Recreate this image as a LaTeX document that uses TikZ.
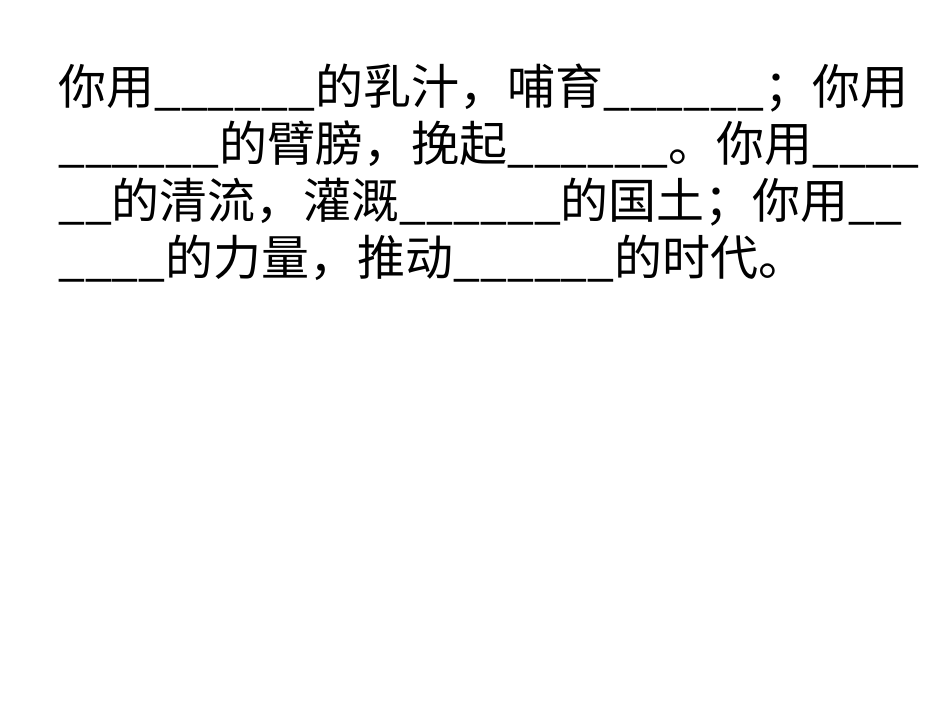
\documentclass[tikz,border=0pt]{standalone}
\usepackage{fontspec}
\newfontfamily\cjk{Noto Sans CJK SC}
\begin{document}
\begin{tikzpicture}[x=1pt,y=1pt,txt/.style={anchor=base west,inner sep=0pt,font=\cjk\fontsize{48}{57}\selectfont}]
\useasboundingbox[fill=white] (0,0) rectangle (950,713);
\node[txt] (l1) at (58,608) {你用\_\_\_\_\_\_的乳汁，哺育\_\_\_\_\_\_；你用};
\node[txt] (l2) at (58,551) {\_\_\_\_\_\_的臂膀，挽起\_\_\_\_\_\_。你用\_\_\_\_};
\node[txt] (l3) at (58,494) {\_\_的清流，灌溉\_\_\_\_\_\_的国土；你用\_\_};
\node[txt] (l4) at (58,437) {\_\_\_\_的力量，推动\_\_\_\_\_\_的时代。};
\end{tikzpicture}
\end{document}
